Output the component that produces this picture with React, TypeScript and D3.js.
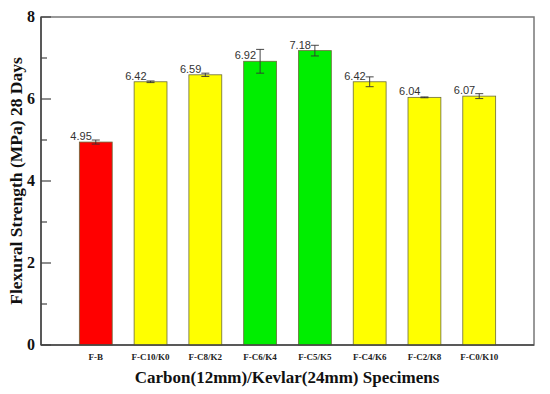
import React, { useEffect, useRef } from 'react';
import * as d3 from 'd3';

const specimens = ['F-B', 'F-C10/K0', 'F-C8/K2', 'F-C6/K4', 'F-C5/K5', 'F-C4/K6', 'F-C2/K8', 'F-C0/K10'];
const strength = [4.95, 6.42, 6.59, 6.92, 7.18, 6.42, 6.04, 6.07];
const errors = [0.05, 0.02, 0.04, 0.29, 0.13, 0.12, 0.01, 0.06];
const barColors = ['#ff0000', '#ffff00', '#ffff00', '#00ee00', '#00ee00', '#ffff00', '#ffff00', '#ffff00'];
const majorTicks = [0, 2, 4, 6, 8];
const minorTicks = [1, 3, 5, 7];

export default function App() {
  const ref = useRef<SVGSVGElement>(null);

  useEffect(() => {
    const svg = d3.select(ref.current);
    svg.selectAll('*').remove();

    const left = 41, right = 534, top = 17, bottom = 345;

    const x = d3.scaleLinear().domain([0, specimens.length + 1]).range([left, right]);
    const y = d3.scaleLinear().domain([0, 8]).range([bottom, top]);
    const barW = (x(1) - x(0)) * 0.6;
    const serif = '"Liberation Serif", "Times New Roman", serif';

    // frame
    svg.append('rect')
      .attr('x', left).attr('y', top)
      .attr('width', right - left).attr('height', bottom - top)
      .attr('fill', 'none').attr('stroke', '#777').attr('stroke-width', 1.5);

    // bars
    svg.selectAll('rect.bar')
      .data(strength)
      .enter()
      .append('rect')
      .attr('class', 'bar')
      .attr('x', (d, i) => x(i + 1) - barW / 2)
      .attr('y', d => y(d))
      .attr('width', barW)
      .attr('height', d => y(0) - y(d))
      .attr('fill', (d, i) => barColors[i])
      .attr('stroke', '#6b6b3a')
      .attr('stroke-width', 0.8);

    // error bars
    const eb = svg.selectAll('g.err')
      .data(strength)
      .enter()
      .append('g')
      .attr('stroke', '#333')
      .attr('stroke-width', 0.9);
    eb.append('line')
      .attr('x1', (d, i) => x(i + 1)).attr('x2', (d, i) => x(i + 1))
      .attr('y1', (d, i) => y(d + errors[i])).attr('y2', (d, i) => y(d - errors[i]));
    eb.append('line')
      .attr('x1', (d, i) => x(i + 1) - 4).attr('x2', (d, i) => x(i + 1) + 4)
      .attr('y1', (d, i) => y(d + errors[i])).attr('y2', (d, i) => y(d + errors[i]));
    eb.append('line')
      .attr('x1', (d, i) => x(i + 1) - 4).attr('x2', (d, i) => x(i + 1) + 4)
      .attr('y1', (d, i) => y(d - errors[i])).attr('y2', (d, i) => y(d - errors[i]));

    // value labels
    svg.selectAll('text.val')
      .data(strength)
      .enter()
      .append('text')
      .attr('x', (d, i) => x(i + 1) - 4)
      .attr('y', d => y(d) - 2)
      .attr('text-anchor', 'end')
      .attr('font-family', 'Arial, "Liberation Sans", sans-serif')
      .attr('font-size', 11)
      .attr('fill', '#333')
      .text(d => d.toFixed(2));

    // axes lines
    svg.append('line').attr('x1', left).attr('x2', left).attr('y1', top).attr('y2', bottom)
      .attr('stroke', '#444').attr('stroke-width', 1.5);
    svg.append('line').attr('x1', left).attr('x2', right).attr('y1', bottom).attr('y2', bottom)
      .attr('stroke', '#444').attr('stroke-width', 1.5);

    // y ticks (inward)
    svg.selectAll('line.maj').data(majorTicks).enter().append('line')
      .attr('x1', left).attr('x2', left + 10)
      .attr('y1', d => y(d)).attr('y2', d => y(d))
      .attr('stroke', '#444').attr('stroke-width', 1.2);
    svg.selectAll('line.min').data(minorTicks).enter().append('line')
      .attr('x1', left).attr('x2', left + 6)
      .attr('y1', d => y(d)).attr('y2', d => y(d))
      .attr('stroke', '#444').attr('stroke-width', 1.2);

    svg.selectAll('text.ytick').data(majorTicks).enter().append('text')
      .attr('x', left - 6)
      .attr('y', d => y(d) + 5)
      .attr('text-anchor', 'end')
      .attr('font-family', serif)
      .attr('font-weight', 'bold')
      .attr('font-size', 16)
      .attr('fill', '#111')
      .text(d => d);

    // x tick labels
    svg.selectAll('text.xtick').data(specimens).enter().append('text')
      .attr('x', (d, i) => x(i + 1))
      .attr('y', bottom + 15)
      .attr('text-anchor', 'middle')
      .attr('font-family', serif)
      .attr('font-weight', 'bold')
      .attr('font-size', 9)
      .attr('fill', '#222')
      .text(d => d);

    // titles
    svg.append('text')
      .attr('x', 287)
      .attr('y', 383)
      .attr('text-anchor', 'middle')
      .attr('font-family', serif)
      .attr('font-weight', 'bold')
      .attr('font-size', 17)
      .attr('fill', '#111')
      .text('Carbon(12mm)/Kevlar(24mm) Specimens');

    svg.append('text')
      .attr('transform', `translate(22,181) rotate(-90)`)
      .attr('text-anchor', 'middle')
      .attr('font-family', serif)
      .attr('font-weight', 'bold')
      .attr('font-size', 17.5)
      .attr('fill', '#111')
      .text('Flexural Strength (MPa) 28 Days');
  }, []);

  return (
    <svg ref={ref} width={550} height={394}
      style={{ position: 'absolute', left: 0, top: 0, background: '#fff' }} />
  );
}
